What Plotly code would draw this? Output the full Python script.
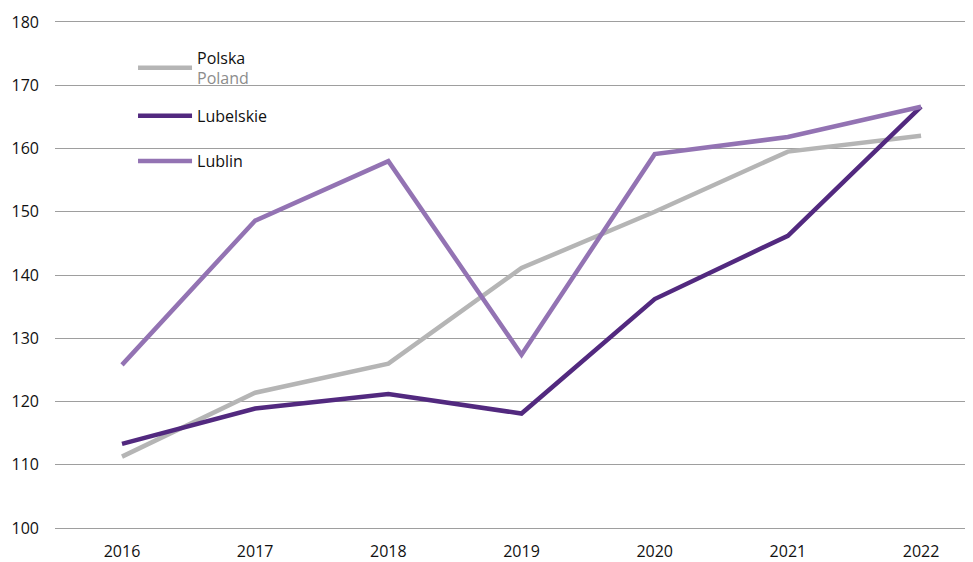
import plotly.graph_objects as go

years = ["2016", "2017", "2018", "2019", "2020", "2021", "2022"]
polska = [111.3, 121.4, 126.0, 141.1, 150.0, 159.5, 162.0]
lubelskie = [113.3, 118.9, 121.2, 118.1, 136.2, 146.2, 166.6]
lublin = [125.8, 148.6, 158.0, 127.4, 159.1, 161.8, 166.6]

names = ["Polska<br><span style='color:#8c8c8c'>Poland</span>", "Lubelskie", "Lublin"]
colors = ["#b5b5b5", "#52297f", "#9373b3"]
series = [polska, lubelskie, lublin]
legends = ["legend", "legend2", "legend3"]
legend_y = [0.906, 0.812, 0.7235]

fig = go.Figure()
for nm, vals, col, lg in zip(names, series, colors, legends):
    fig.add_trace(go.Scatter(x=years, y=vals, mode="lines", name=nm,
                             line=dict(color=col, width=4.5), legend=lg))

leg_common = dict(x=0.085, xanchor="left", yanchor="middle",
                  bgcolor="rgba(0,0,0,0)", font=dict(size=16, color="#111111"),
                  itemwidth=54)
layout_legs = {lg: dict(y=ly, **leg_common) for lg, ly in zip(legends, legend_y)}

# page body adds an 8px offset; figure is sized to fill the 973x562 window
fig.update_layout(
    width=965, height=554,
    margin=dict(l=47, r=0, t=12, b=32, autoexpand=False),
    paper_bgcolor="white", plot_bgcolor="white",
    font=dict(family="Open Sans, Noto Sans, sans-serif", size=16, color="#111111"),
    showlegend=True,
    xaxis=dict(type="category", range=[-0.503, 6.39], showgrid=False, showline=False,
               ticks="", automargin=False, ticklabelstandoff=10,
               tickfont=dict(size=16)),
    yaxis=dict(range=[99.7, 180.3], dtick=10, tick0=100, showgrid=True,
               gridcolor="#9e9e9e", gridwidth=1, zeroline=False, showline=False,
               ticks="", automargin=False, ticklabelstandoff=15,
               tickfont=dict(size=16)),
    **layout_legs,
)

fig.write_html("out.html")
